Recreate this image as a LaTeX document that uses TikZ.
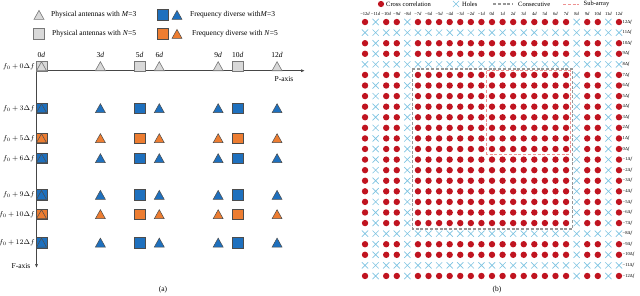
\documentclass[tikz,border=0pt]{standalone}
\usepackage{fontspec}
\setmainfont{Liberation Serif}
\usetikzlibrary{arrows.meta}
\definecolor{cblue}{RGB}{30,112,190}
\definecolor{corange}{RGB}{237,125,49}
\definecolor{cgrayf}{RGB}{217,217,217}
\definecolor{cgrayd}{RGB}{120,120,120}
\definecolor{cred}{RGB}{192,20,32}
\definecolor{chole}{RGB}{125,195,225}
\definecolor{cpink}{RGB}{238,145,145}
\definecolor{cdash}{RGB}{150,150,150}
\definecolor{caxis}{RGB}{70,70,70}
\newcommand\sgnnum[1]{\ifnum#1<0 −\number\numexpr0-(#1)\relax\else#1\fi}
\begin{document}
\begin{tikzpicture}[x=1pt,y=-1pt,
  tri/.pic={\path[pic actions] (-5,4.4) -- (5,4.4) -- (0,-4.6) -- cycle;},
  sq/.pic={\path[pic actions] (-5.3,-5.3) rectangle (5.3,5.3);},
  crs/.pic={\path[pic actions] (-3.1,-3.1) -- (3.1,3.1) (-3.1,3.1) -- (3.1,-3.1);},
  shg/.style={fill=cgrayf,draw=cgrayd,line width=0.6pt},
  shb/.style={fill=cblue,draw=black!70,line width=0.5pt},
  sho/.style={fill=corange,draw=black!70,line width=0.5pt},
  holestyle/.style={draw=chole,line width=0.65pt},
  dotstyle/.style={fill=cred},
  lbl/.style={font=\fontsize{7.5}{9}\selectfont,inner sep=0pt},
  rowlbl/.style={font=\fontsize{7}{8}\selectfont,inner sep=0pt},
  leg/.style={font=\fontsize{6.5}{8}\selectfont,inner sep=0pt},
  tiny/.style={font=\fontsize{4.6}{5.5}\selectfont,inner sep=0pt},
  axisline/.style={draw=caxis,line width=0.7pt,-{Latex[length=4pt,width=3pt]}},
  graydash/.style={draw=cdash,line width=1.1pt,dash pattern=on 3pt off 1.8pt},
  pinkdash/.style={draw=cpink,line width=0.9pt,dash pattern=on 3pt off 1.8pt}
]
\useasboundingbox (0,0) rectangle (640,295);

% ---------- Left panel legend ----------
\pic[shg] at (39,15) {tri};
\node[lbl,anchor=west] (lg1) at (51,15) {Physical antennas with \textit{M}=3};
\pic[shb] at (163,15) {sq};
\pic[shb] at (177,15) {tri};
\node[lbl,anchor=west] (lg2) at (190,15) {Frequency diverse with\textit{M}=3};
\pic[shg] at (39,34) {sq};
\node[lbl,anchor=west] (lg3) at (52,34) {Physical antennas with \textit{N}=5};
\pic[sho] at (163,34) {sq};
\pic[sho] at (177,34) {tri};
\node[lbl,anchor=west] (lg4) at (192,34) {Frequency diverse with \textit{N}=5};

% ---------- Column labels ----------
\foreach \k in {0,3,5,6,9,10,12}
  \node[lbl] (c\k) at ({41.5+19.63*\k},55) {\k\textit{d}};

% ---------- Axes ----------
\coordinate (o) at (36.5,70.7);
\coordinate (pend) at (305,70.7);
\coordinate (fend) at (36.5,268);
\draw[axisline] (o) -- (pend);
\draw[axisline] (o) -- (fend);
\node[lbl] (paxis) at (284,79.5) {P-axis};
\node[lbl] (faxis) at (21,266) {F-axis};

% ---------- Rows ----------
\foreach \r/\y/\s in {0/66.3/shg,3/108.3/shb,5/138.3/sho,6/158.3/shb,9/195/shb,10/214.3/sho,12/242.7/shb}{
  \node[rowlbl,anchor=east] (r\r) at (35,\y) {$f_0\,{+}\,\r\Delta f$};
  \foreach \k in {0,5,10} \pic[\s] at ({41.5+19.63*\k},\y) {sq};
  \foreach \k in {0,3,6,9,12} \pic[\s] at ({41.5+19.63*\k},\y) {tri};
}

\node[lbl] (capa) at (163,290) {(a)};

% ---------- Right panel legend ----------
\fill[dotstyle] (381,4) circle (3.1);
\node[leg,anchor=west] (rl1) at (386,4) {Cross correlation};
\pic[holestyle] at (456,4) {crs};
\node[leg,anchor=west] (rl2) at (462,4) {Holes};
\draw[graydash] (493,4) -- (513,4);
\node[leg,anchor=west] (rl3) at (518,4) {Consecutive};
\draw[pinkdash] (563,4) -- (579,4);
\node[leg,anchor=west] (rl4) at (583.5,4) {Sub-array};

% ---------- Grid ----------
\foreach \c in {-12,...,12}{
  \foreach \r in {-12,...,12}{
    \pgfmathtruncatemacro\h{or(or(abs(\c)==8,abs(\c)==11),or(abs(\r)==8,abs(\r)==11))}
    \ifnum\h=1
      \pic[holestyle] at ({492+10.58*\c},{149-10.58*\r}) {crs};
    \else
      \fill[dotstyle] ({492+10.58*\c},{149-10.58*\r}) circle (3.2);
    \fi
  }
}
\foreach \c in {-12,...,12}
  \node[tiny] (t\c) at ({492+10.58*\c},13.5) {\sgnnum{\c}\textit{d}};
\foreach \r in {-12,...,12}
  \node[tiny,anchor=west] (s\r) at (622.5,{149-10.58*\r}) {\sgnnum{\r}Δ\textit{f}};

\draw[graydash] (412.3,69) rectangle (572.7,229);
\draw[pinkdash] (486.7,70.5) rectangle (570.3,154);

\node[lbl] (capb) at (497,290) {(b)};
\end{tikzpicture}
\end{document}
